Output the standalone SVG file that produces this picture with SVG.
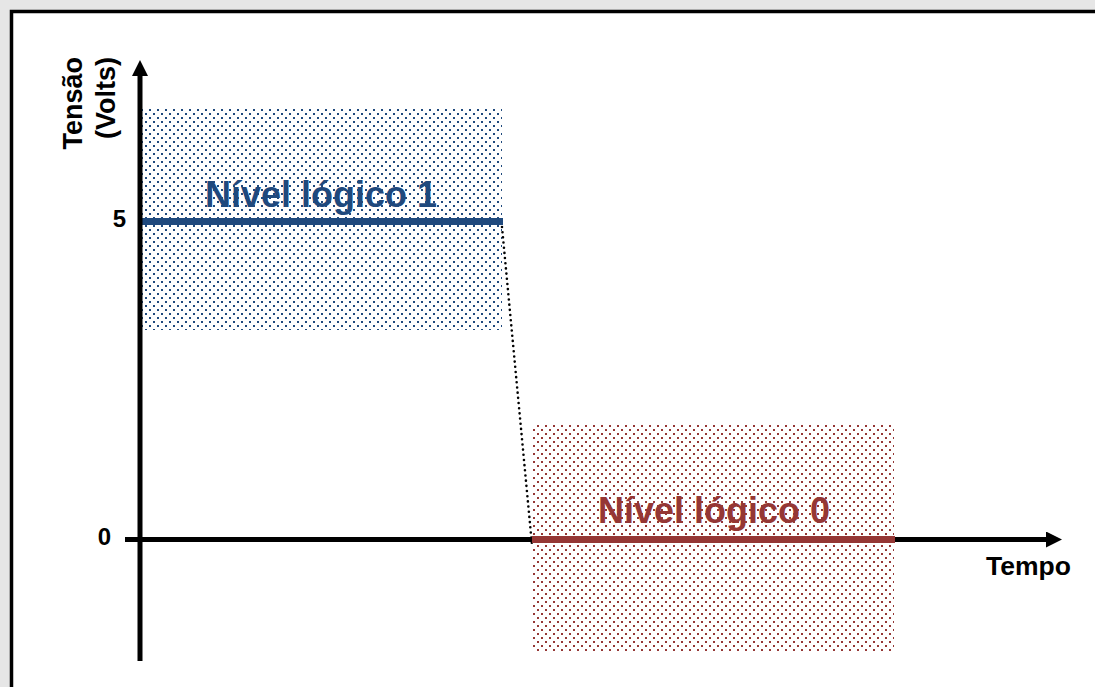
<svg xmlns="http://www.w3.org/2000/svg" width="1095" height="687" viewBox="0 0 1095 687">
  <style>
    .lbl { font-family: "Liberation Sans", Arial, sans-serif; font-weight: bold; fill: #000; }
    .axis { stroke: #000; stroke-width: 5; fill: none; }
    .level { font-family: "Liberation Sans", Arial, sans-serif; font-weight: bold; font-size: 36px; }
  </style>
  <defs>
    <pattern id="dotsBlue" x="0" y="0" width="8" height="8" patternUnits="userSpaceOnUse">
      <rect x="1" y="1" width="2" height="2" fill="#1F497D"/>
      <rect x="5" y="5" width="2" height="2" fill="#1F497D"/>
    </pattern>
    <pattern id="dotsRed" x="0" y="0" width="8" height="8" patternUnits="userSpaceOnUse">
      <rect x="1" y="1" width="2" height="2" fill="#953735"/>
      <rect x="5" y="5" width="2" height="2" fill="#953735"/>
    </pattern>
    <marker id="arrow" viewBox="0 0 16 16" refX="2" refY="8" markerWidth="16" markerHeight="16" markerUnits="userSpaceOnUse" orient="auto">
      <path d="M0,0 L16,8 L0,16 Z" fill="#000"/>
    </marker>
  </defs>

  <!-- page background and frame -->
  <rect x="0" y="0" width="1095" height="687" fill="#e6e6e6"/>
  <rect x="11.5" y="11.5" width="1100" height="700" fill="#fff" stroke="#000" stroke-width="3.5"/>

  <!-- logic level 1 band -->
  <g id="nivel1">
    <rect x="142" y="107" width="360" height="223" fill="url(#dotsBlue)"/>
    <line x1="142" y1="221.5" x2="503" y2="221.5" stroke="#1F497D" stroke-width="7"/>
    <text class="level" x="205" y="207" fill="#1F497D">Nível lógico 1</text>
  </g>

  <!-- logic level 0 band -->
  <g id="nivel0">
    <rect x="531" y="423" width="363" height="229" fill="url(#dotsRed)"/>
    <text class="level" x="598" y="523" fill="#953735">Nível lógico 0</text>
  </g>

  <!-- axes and transition -->
  <g id="connectors">
    <line class="axis" x1="140" y1="661" x2="140" y2="74" marker-end="url(#arrow)"/>
    <line class="axis" x1="125" y1="539.5" x2="1048" y2="539.5" marker-end="url(#arrow)"/>
    <line x1="502" y1="227" x2="532" y2="545" stroke="#000" stroke-width="2.6" stroke-linecap="round" stroke-dasharray="0 5.2"/>
  </g>

  <g id="nivel0-linha">
    <line x1="532" y1="539.5" x2="895" y2="539.5" stroke="#953735" stroke-width="7"/>
  </g>

  <!-- axis labels -->
  <g id="eixo-y">
    <text class="lbl" font-size="27" text-anchor="end" transform="translate(82,57) rotate(-90)">Tensão</text>
    <text class="lbl" font-size="27" text-anchor="end" transform="translate(115,57) rotate(-90)">(Volts)</text>
    <text class="lbl" font-size="24" text-anchor="end" x="126" y="227">5</text>
    <text class="lbl" font-size="24" text-anchor="end" x="111" y="545">0</text>
  </g>
  <g id="eixo-x">
    <text class="lbl" font-size="26.5" x="986" y="575">Tempo</text>
  </g>
</svg>
